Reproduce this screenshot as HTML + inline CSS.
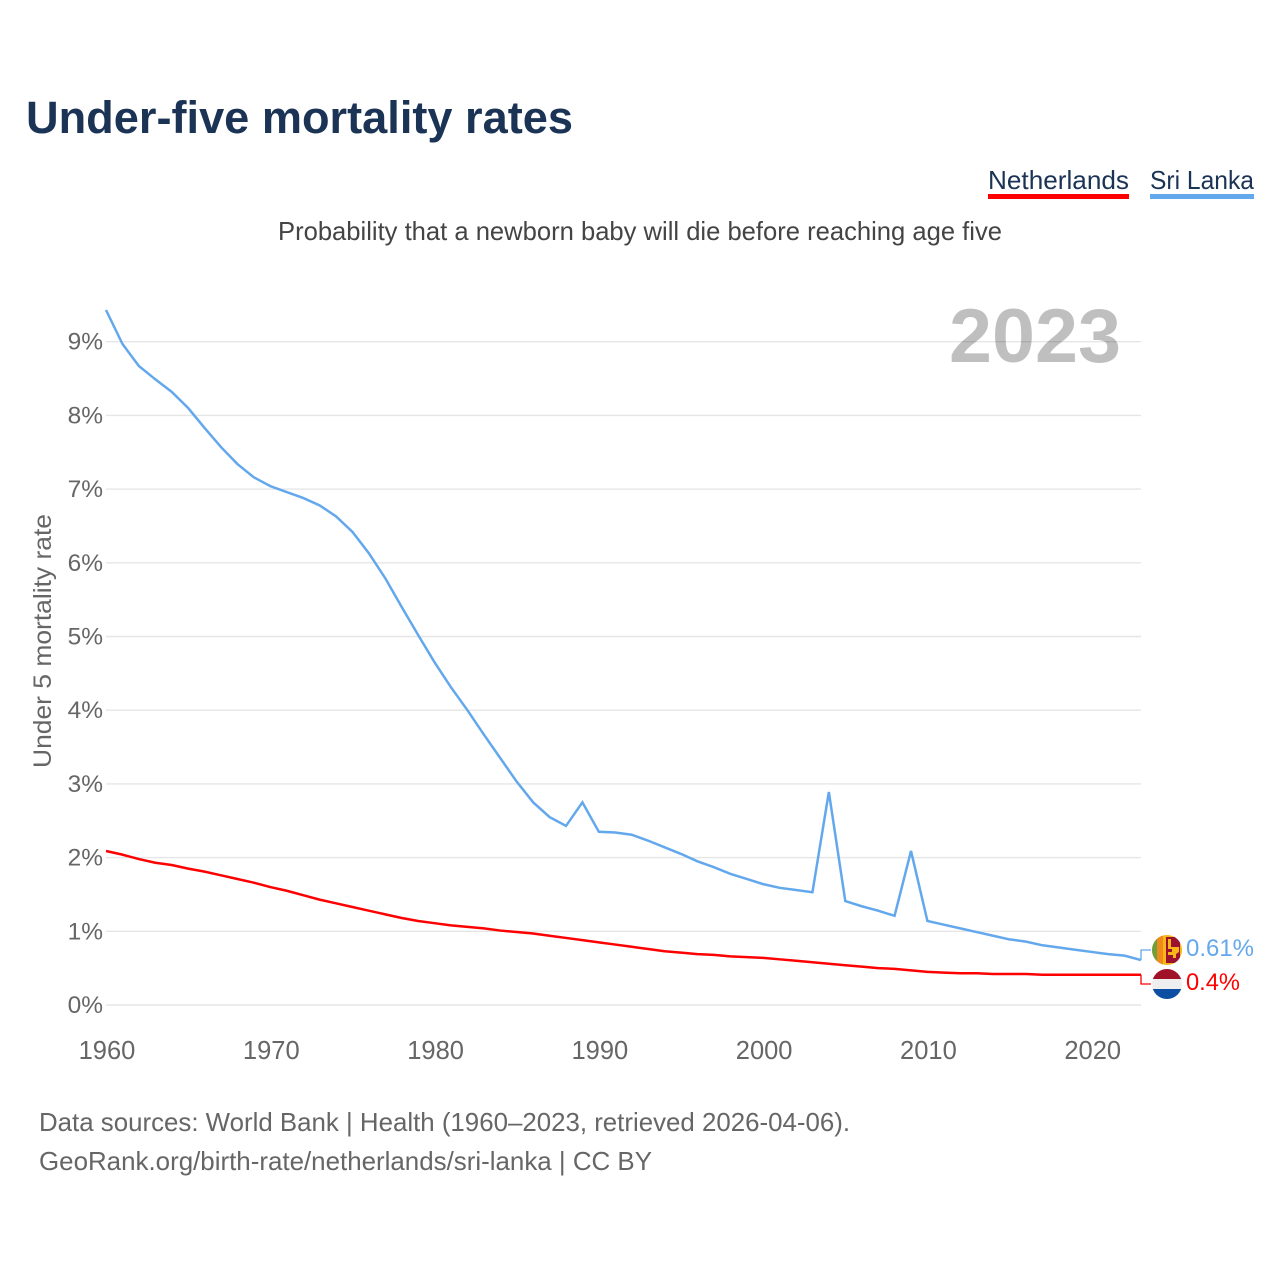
<!DOCTYPE html>
<html lang="en">
<head>
<meta charset="utf-8">
<title>Under-five mortality rates</title>
<style>
html,body{margin:0;padding:0;background:#fff;}
svg{display:block;font-family:"Liberation Sans",sans-serif;}
</style>
</head>
<body>
<svg id="chart" width="1280" height="1280" viewBox="0 0 1280 1280" xmlns="http://www.w3.org/2000/svg">
  <defs>
    <clipPath id="clip-lk"><circle cx="1167" cy="950" r="15"/></clipPath>
    <clipPath id="clip-nl"><circle cx="1167" cy="984" r="15"/></clipPath>
  </defs>
  <rect x="0" y="0" width="1280" height="1280" fill="#fff"/>

  <text x="26" y="133" font-size="45" font-weight="700" fill="#1b3354" textLength="547" lengthAdjust="spacingAndGlyphs">Under-five mortality rates</text>

  <g>
    <g>
      <text x="988" y="189" font-size="26" fill="#1b3354" textLength="141" lengthAdjust="spacingAndGlyphs">Netherlands</text>
      <rect x="988" y="194" width="141" height="5" fill="#ff0000"/>
    </g>
    <g>
      <text x="1150" y="189" font-size="26" fill="#1b3354" textLength="104" lengthAdjust="spacingAndGlyphs">Sri Lanka</text>
      <rect x="1150" y="194" width="104" height="5" fill="#63a8ec"/>
    </g>
  </g>

  <text x="278" y="240" font-size="26" fill="#444" textLength="724" lengthAdjust="spacingAndGlyphs">Probability that a newborn baby will die before reaching age five</text>

  <text transform="translate(51,768) rotate(-90)" x="0" y="0" font-size="25" fill="#666" textLength="254" lengthAdjust="spacingAndGlyphs">Under 5 mortality rate</text>

  <g id="grid"></g>
  <g id="yticks"></g>
  <g id="xticks"></g>

  <text x="949" y="362" font-size="76" font-weight="700" fill="#000" fill-opacity="0.25" textLength="172" lengthAdjust="spacingAndGlyphs">2023</text>

  <g id="series"></g>

  <g clip-path="url(#clip-lk)">
    <rect x="1152" y="935" width="30" height="30" fill="#f7b718"/>
    <rect x="1152" y="935" width="5" height="30" fill="#6d9f3c"/>
    <rect x="1157" y="935" width="6" height="30" fill="#f08a1d"/>
    <rect x="1166" y="937" width="14" height="26" fill="#9a1230"/>
    <path d="M1168 939h3v8h8v5l-3 2v4h-3v-3h-5v-3h4v-3h-4z" fill="#f7b718"/>
  </g>
  <g clip-path="url(#clip-nl)">
    <rect x="1152" y="969" width="30" height="10" fill="#a01228"/>
    <rect x="1152" y="979" width="30" height="10" fill="#efefef"/>
    <rect x="1152" y="989" width="30" height="10" fill="#0b4ea2"/>
  </g>

  <text x="1186" y="956" font-size="24" fill="#63a8ec" textLength="68" lengthAdjust="spacingAndGlyphs">0.61%</text>
  <text x="1186" y="990" font-size="24" fill="#ff0000" textLength="54" lengthAdjust="spacingAndGlyphs">0.4%</text>

  <text x="39" y="1131" font-size="26" fill="#666" textLength="811" lengthAdjust="spacingAndGlyphs">Data sources: World Bank | Health (1960–2023, retrieved 2026-04-06).</text>
  <text x="39" y="1170" font-size="26" fill="#666" textLength="613" lengthAdjust="spacingAndGlyphs">GeoRank.org/birth-rate/netherlands/sri-lanka | CC BY</text>
</svg>

<script>
var firstYear = 1960;
var lastYear = 2023;
var yTickValues = [0, 1, 2, 3, 4, 5, 6, 7, 8, 9];
var xTickValues = [1960, 1970, 1980, 1990, 2000, 2010, 2020];
var sriLankaValues = [
  9.43, 8.97, 8.67, 8.49, 8.32, 8.10, 7.83, 7.57, 7.34, 7.16,
  7.04, 6.96, 6.88, 6.78, 6.63, 6.42, 6.13, 5.79, 5.40, 5.02,
  4.65, 4.31, 4.00, 3.67, 3.35, 3.03, 2.75, 2.55, 2.43, 2.75,
  2.35, 2.34, 2.31, 2.23, 2.14, 2.05, 1.95, 1.87, 1.78, 1.71,
  1.64, 1.59, 1.56, 1.53, 2.89, 1.41, 1.34, 1.28, 1.21, 2.09,
  1.14, 1.09, 1.04, 0.99, 0.94, 0.89, 0.86, 0.81, 0.78, 0.75,
  0.72, 0.69, 0.67, 0.61
];
var netherlandsValues = [
  2.09, 2.04, 1.98, 1.93, 1.90, 1.85, 1.81, 1.76, 1.71, 1.66,
  1.60, 1.55, 1.49, 1.43, 1.38, 1.33, 1.28, 1.23, 1.18, 1.14,
  1.11, 1.08, 1.06, 1.04, 1.01, 0.99, 0.97, 0.94, 0.91, 0.88,
  0.85, 0.82, 0.79, 0.76, 0.73, 0.71, 0.69, 0.68, 0.66, 0.65,
  0.64, 0.62, 0.60, 0.58, 0.56, 0.54, 0.52, 0.50, 0.49, 0.47,
  0.45, 0.44, 0.43, 0.43, 0.42, 0.42, 0.42, 0.41, 0.41, 0.41,
  0.41, 0.41, 0.41, 0.41
];

var NS = 'http://www.w3.org/2000/svg';
var plotLeft = 106, plotRight = 1141, plotBottom = 1005, pxPerUnit = 73.7;

function xScale(year) {
  return plotLeft + (year - firstYear) * (plotRight - plotLeft) / (lastYear - firstYear);
}
function yScale(value) {
  return plotBottom - value * pxPerUnit;
}
function make(tag, attrs, parent) {
  var el = document.createElementNS(NS, tag);
  for (var k in attrs) el.setAttribute(k, attrs[k]);
  parent.appendChild(el);
  return el;
}

var grid = document.getElementById('grid');
var yticks = document.getElementById('yticks');
var xticks = document.getElementById('xticks');
var series = document.getElementById('series');

yTickValues.forEach(function (v) {
  var line = make('line', {x1: plotLeft, x2: plotRight, y1: yScale(v), y2: yScale(v), stroke: '#e6e6e6', 'stroke-width': 1.4}, grid);
  
  
  var label = make('text', {x: 103, y: yScale(v) + 8, 'text-anchor': 'end', 'font-size': 24.5, fill: '#666'}, yticks);
  
  
  label.textContent = v + '%';
});

xTickValues.forEach(function (year) {
  var label = make('text', {x: xScale(year) + 1, y: 1059, 'text-anchor': 'middle', 'font-size': 25.5, fill: '#666'}, xticks);
  
  
  label.textContent = year;
});

function pointsFor(values) {
  return values.map(function (v, i) {
    return xScale(firstYear + i).toFixed(2) + ',' + yScale(v).toFixed(2);
  });
}

var netherlandsLine = make('polyline', {points: pointsFor(netherlandsValues).join(' '), fill: 'none', stroke: '#ff0000', 'stroke-width': 2.5, 'stroke-linejoin': 'round'}, series);



var sriLankaLine = make('polyline', {points: pointsFor(sriLankaValues).join(' '), fill: 'none', stroke: '#63a8ec', 'stroke-width': 2.5, 'stroke-linejoin': 'miter'}, series);



function connector(values, labelY, color) {
  var y = yScale(values[values.length - 1]);
  return make('polyline', {points: plotRight + ',' + y + ' ' + plotRight + ',' + labelY + ' 1151,' + labelY, fill: 'none', stroke: color, 'stroke-width': 1.3}, series);
}
var netherlandsConnector = connector(netherlandsValues, 984, '#ff0000');


var sriLankaConnector = connector(sriLankaValues, 950, '#63a8ec');


</script>
</body>
</html>
